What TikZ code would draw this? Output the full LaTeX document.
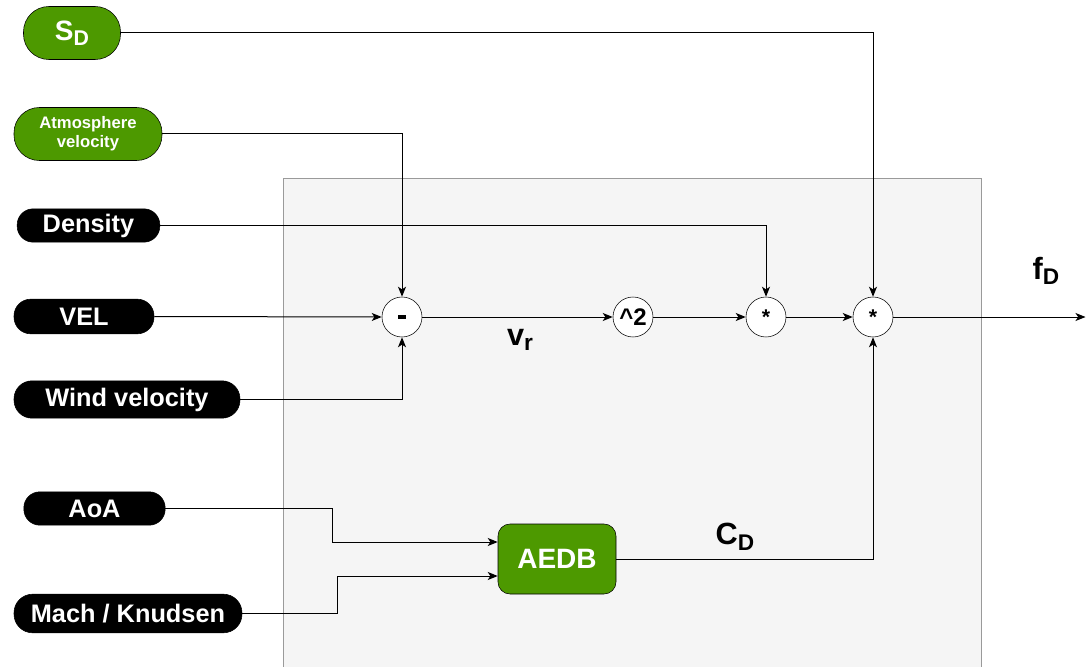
\documentclass[tikz,border=0pt]{standalone}
\usepackage{fontspec}
\setmainfont{Liberation Sans}
\usetikzlibrary{arrows.meta,calc}
\definecolor{gfill}{HTML}{4D9900}
\definecolor{boxfill}{HTML}{F5F5F5}
\definecolor{boxline}{HTML}{9A9A9A}
\newcommand\subD[2]{#1\raisebox{-0.35ex}{\fontsize{#2}{#2}\selectfont D}}
\begin{document}
\begin{tikzpicture}[x=0.75pt,y=-0.75pt,
  pillg/.style={draw=black,fill=gfill,text=white,font=\bfseries,inner sep=0pt,align=center},
  pillb/.style={draw=black,fill=black,text=white,font=\fontsize{19}{21}\selectfont\bfseries,inner sep=0pt,yshift=-1.5pt},
  op/.style={circle,draw=black,fill=white,minimum size=30pt,inner sep=0pt,font=\fontsize{18}{19}\selectfont\bfseries},
  lbl/.style={font=\fontsize{23}{25}\selectfont\bfseries},
  arr/.style={draw=black,line width=0.75pt,-{Stealth[length=7.5pt,width=6pt,inset=2pt]}},
  ln/.style={draw=black,line width=0.75pt}]
\useasboundingbox (0,0) rectangle (1086,667);
% gray container
\fill[boxfill] (283.5,178.5) rectangle (980.5,667);
\draw[boxline,line width=0.75pt] (283,667.5) -- (283,178) -- (981,178) -- (981,667.5);
% inputs
\node[pillg,minimum width=72.75pt,minimum height=39.75pt,rounded corners=19pt,font=\fontsize{21}{23}\selectfont\bfseries] (sd) at (72,33) {\subD{S}{16}};
\node[pillg,minimum width=111pt,minimum height=39.75pt,rounded corners=19pt,font=\fontsize{12.5}{14.5}\selectfont\bfseries] (atm) at (88,134) {Atmosphere\\velocity};
\node[pillb,minimum width=107pt,minimum height=25pt,rounded corners=12pt] (den) at (88.5,223.5) {Density};
\node[pillb,minimum width=105pt,minimum height=26pt,rounded corners=12.5pt] (vel) at (84,314.5) {VEL};
\node[pillb,minimum width=169.5pt,minimum height=28pt,rounded corners=13.5pt] (wind) at (127,397.5) {Wind velocity};
\node[pillb,minimum width=106pt,minimum height=25pt,rounded corners=12pt] (aoa) at (94.5,506.5) {AoA};
\node[pillb,minimum width=171pt,minimum height=29pt,rounded corners=14pt] (mach) at (128,611.5) {Mach / Knudsen};
% operators
\node[op] (minus) at (402,317) {};
\draw[line width=3.2pt] ($(minus.center)+(-4,0)$) -- ($(minus.center)+(4,0)$);
\node[op] (sq) at (633,317) {\^{}2};
\node[op,font=\fontsize{16}{17}\selectfont\bfseries] (m1) at (766,317) {*};
\node[op,font=\fontsize{16}{17}\selectfont\bfseries] (m2) at (873,317) {*};
\node[draw=black,fill=gfill,text=white,rounded corners=9pt,minimum width=88.5pt,minimum height=52.5pt,inner sep=0pt,font=\fontsize{21}{23}\selectfont\bfseries] (aedb) at (557,559) {AEDB};
\coordinate (out) at (1085.5,317);
% labels
\node[lbl] (vr) at (520,340) {v\raisebox{-0.35ex}{\fontsize{17}{17}\selectfont r}};
\node[lbl] (fd) at (1046,271) {f\raisebox{-0.35ex}{\fontsize{17}{17}\selectfont D}};
\node[lbl] (cd) at (735,537) {C\raisebox{-0.35ex}{\fontsize{17}{17}\selectfont D}};
% connectors
\draw[arr] (sd.east) -| (m2.north);
\draw[arr] (atm.east) -| (minus.north);
\draw[arr] (den.east) -| (m1.north);
\draw[arr] (vel.east) -- (minus.west);
\draw[arr] (wind.east) -| (minus.south);
\draw[arr] (minus.east) -- (sq.west);
\draw[arr] (sq.east) -- (m1.west);
\draw[arr] (m1.east) -- (m2.west);
\draw[arr] (m2.east) -- (out);
\draw[arr] (aoa.east) -| (332,542) -- (aedb.west |- 332,542);
\draw[arr] (mach.east) -| (337,576) -- (aedb.west |- 337,576);
\draw[arr] (aedb.east) -| (m2.south);
\end{tikzpicture}
\end{document}
